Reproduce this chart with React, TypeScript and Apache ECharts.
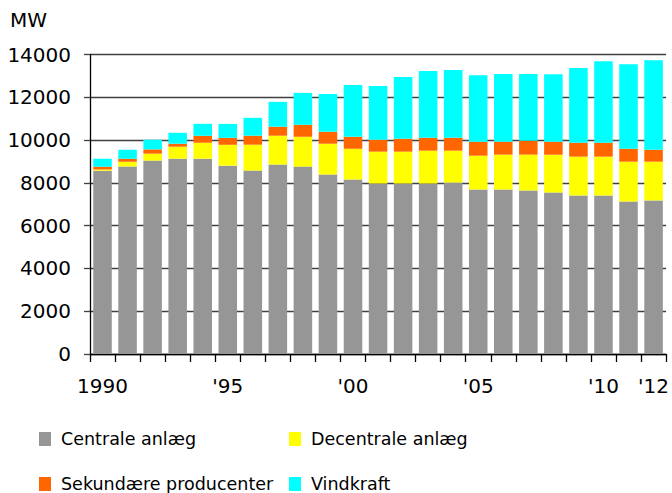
import React, { useEffect, useRef } from "react";
import * as echarts from "echarts";

const years = [
  "1990", "1991", "1992", "1993", "1994", "1995", "1996", "1997", "1998", "1999", "2000", "2001",
  "2002", "2003", "2004", "2005", "2006", "2007", "2008", "2009", "2010", "2011", "2012",
];
const tickLabels: Record<string, string> = {
  "1990": "1990",
  "1995": "'95",
  "2000": "'00",
  "2005": "'05",
  "2010": "'10",
  "2012": "'12",
};
const centrale = [
  8570, 8760, 9040, 9130, 9130, 8805, 8575, 8855, 8760, 8390, 8155, 7970,
  7970, 7970, 8015, 7690, 7690, 7645, 7550, 7410, 7410, 7130, 7180,
];
const decentrale = [
  60, 232, 325, 560, 745, 975, 1210, 1350, 1395, 1440, 1440, 1490,
  1490, 1535, 1490, 1580, 1630, 1675, 1765, 1815, 1815, 1860, 1810,
];
const sekundaere = [
  125, 140, 200, 140, 325, 325, 420, 420, 560, 560, 560, 560,
  605, 605, 605, 650, 605, 650, 605, 650, 650, 605, 560,
];
const vindkraft = [
  375, 418, 450, 510, 560, 650, 835, 1160, 1490, 1765, 2420, 2510,
  2885, 3115, 3160, 3115, 3160, 3115, 3160, 3490, 3810, 3955, 4185,
];
const yTicks = { min: 0, max: 14000, interval: 2000 };

const names = ["Centrale anlæg", "Decentrale anlæg", "Sekundære producenter", "Vindkraft"];
const colors = ["#969696", "#FFFF00", "#FF6600", "#00FFFF"];
const seriesData = [centrale, decentrale, sekundaere, vindkraft];

const FONT = "DejaVu Sans";

export default function App() {
  const ref = useRef<HTMLDivElement>(null);
  useEffect(() => {
    document.body.style.margin = "0";
    document.body.style.overflow = "hidden";
    if (!ref.current) return;
    const chart = echarts.init(ref.current, null, { renderer: "svg" });
    const legendPos = [
      { left: 39, top: 430 },
      { left: 289, top: 430 },
      { left: 39, top: 475 },
      { left: 289, top: 475 },
    ];
    chart.setOption({
      animation: false,
      color: colors,
      textStyle: { fontFamily: FONT },
      grid: { left: 90, right: 4, top: 54.5, bottom: 139, containLabel: false },
      graphic: [
        {
          type: "text",
          left: 10,
          top: 10,
          style: { text: "MW", fontSize: 20, fontFamily: FONT, fill: "#000" },
        },
      ],
      legend: names.map((n, i) => ({
        data: [n],
        left: legendPos[i].left,
        top: legendPos[i].top,
        orient: "horizontal",
        padding: 0,
        itemWidth: 12,
        itemHeight: 14,
        icon: "rect",
        selectedMode: false,
        textStyle: {
          fontFamily: FONT,
          fontSize: 17.5,
          color: "#000",
          lineHeight: 14,
          padding: [0, 0, 0, 5],
        },
      })),
      xAxis: {
        type: "category",
        data: years,
        axisLine: { show: true, lineStyle: { color: "#000", width: 1.3 } },
        axisTick: {
          show: true,
          interval: 0,
          alignWithLabel: false,
          length: 8,
          lineStyle: { color: "#000", width: 1.3 },
        },
        axisLabel: {
          interval: (idx: number) => tickLabels[years[idx]] !== undefined,
          formatter: (v: string) => tickLabels[v] ?? "",
          fontSize: 20,
          fontFamily: FONT,
          color: "#000",
          margin: 22,
          hideOverlap: false,
        },
        splitLine: { show: false },
      },
      yAxis: {
        type: "value",
        min: yTicks.min,
        max: yTicks.max,
        interval: yTicks.interval,
        axisLine: { show: true, lineStyle: { color: "#000", width: 1.3 } },
        axisTick: { show: true, length: 6, lineStyle: { color: "#404040", width: 1.3 } },
        axisLabel: {
          fontSize: 20,
          fontFamily: FONT,
          color: "#000",
          margin: 19,
          formatter: (v: number) => String(v),
        },
        splitLine: { show: true, lineStyle: { color: "#404040", width: 1.3 } },
      },
      series: names.map((n, i) => ({
        name: n,
        type: "bar",
        stack: "total",
        data: seriesData[i],
        barCategoryGap: "26%",
        itemStyle: { color: colors[i] },
      })),
    });
    return () => chart.dispose();
  }, []);
  return <div ref={ref} style={{ width: 672, height: 493 }} />;
}
